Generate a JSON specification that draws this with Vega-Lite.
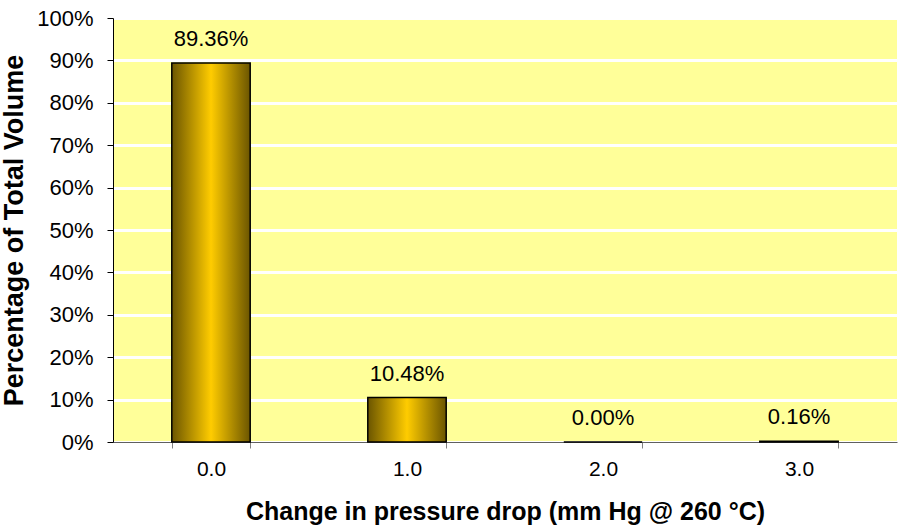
{
  "$schema": "https://vega.github.io/schema/vega-lite/v6.json",
  "width": 784,
  "height": 424,
  "autosize": {"type": "none"},
  "padding": {"left": 113, "top": 18, "right": 2, "bottom": 88},
  "background": "#ffffff",
  "config": {
    "font": "Liberation Sans",
    "view": {"fill": "#FFFF99", "stroke": null},
    "axis": {"labelFont": "Liberation Sans", "titleFont": "Liberation Sans", "labelColor": "#000000", "titleColor": "#000000"}
  },
  "data": {
    "values": [
      {"drop": "0.0", "pct": 0.8936},
      {"drop": "1.0", "pct": 0.1048},
      {"drop": "2.0", "pct": 0.0},
      {"drop": "3.0", "pct": 0.0016}
    ]
  },
  "encoding": {
    "x": {
      "field": "drop", "type": "ordinal", "sort": null,
      "scale": {"paddingInner": 0.6, "paddingOuter": 0.3},
      "axis": {
        "title": "Change in pressure drop (mm Hg @ 260 °C)",
        "titleFontSize": 25, "titleFontWeight": "bold", "titlePadding": 20,
        "labelFontSize": 21, "labelAngle": 0, "labelPadding": 10,
        "tickBand": "extent", "tickSize": 6, "tickColor": "#808080",
        "domainColor": "#606060", "grid": false
      }
    },
    "y": {
      "field": "pct", "type": "quantitative",
      "scale": {"domain": [0, 1], "nice": false},
      "axis": {
        "title": "Percentage of Total Volume",
        "titleFontSize": 27, "titleFontWeight": "bold", "titlePadding": 8,
        "format": ".0%", "values": [0,0.1,0.2,0.3,0.4,0.5,0.6,0.7,0.8,0.9,1.0],
        "labelOverlap": false, "labelFlush": false,
        "labelFontSize": 22, "labelPadding": 14, "tickSize": 6, "tickColor": "#000000",
        "domainColor": "#000000", "grid": true, "gridColor": "#ffffff", "gridWidth": 3, "gridOpacity": 1
      }
    }
  },
  "layer": [
    {
      "mark": {
        "type": "bar",
        "stroke": "#000000",
        "strokeWidth": 1.5,
        "color": {
          "gradient": "linear", "x1": 0, "x2": 1, "y1": 0, "y2": 0,
          "stops": [
            {"offset": 0, "color": "#6B5500"},
            {"offset": 0.5, "color": "#FFCC00"},
            {"offset": 1, "color": "#6B5500"}
          ]
        }
      }
    },
    {
      "mark": {"type": "text", "baseline": "bottom", "dy": -12, "fontSize": 22, "color": "#000000"},
      "encoding": {"text": {"field": "pct", "type": "quantitative", "format": ".2%"}}
    }
  ]
}
